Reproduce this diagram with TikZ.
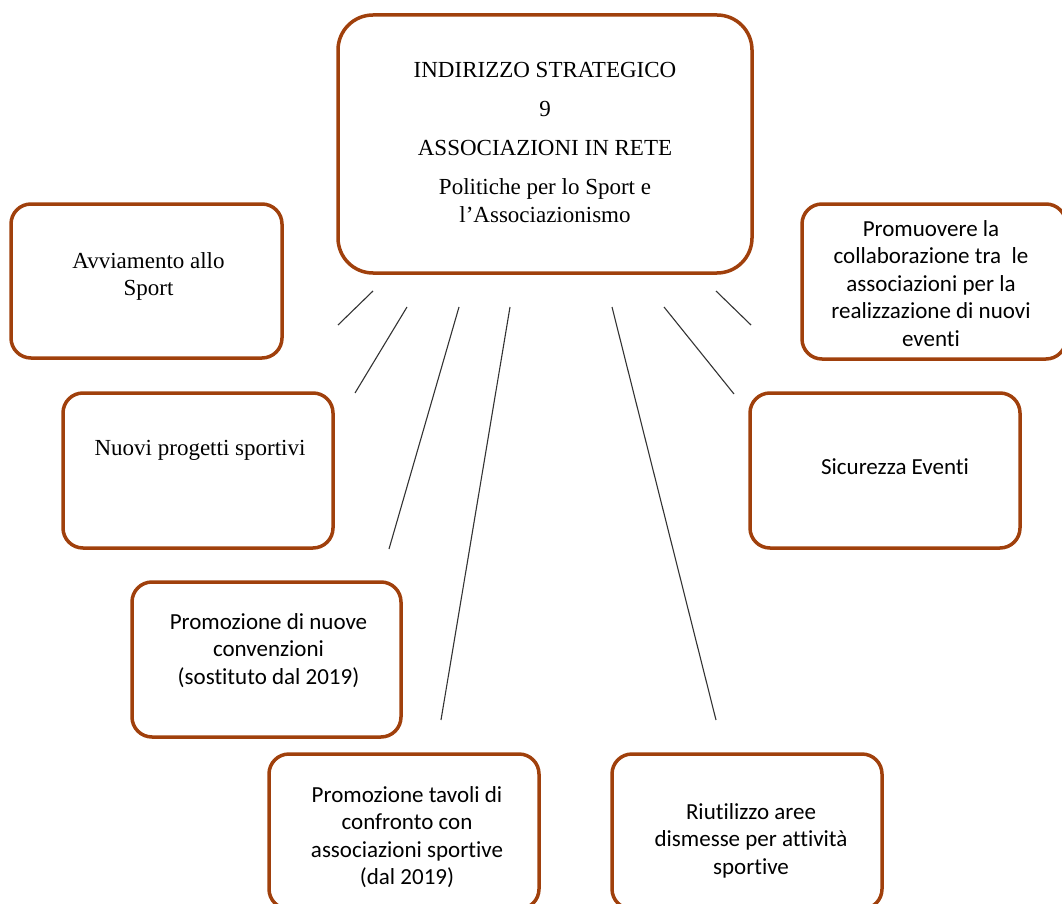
\documentclass[tikz,border=0pt]{standalone}
\usepackage{fontspec}
\setmainfont{Liberation Serif}
\newfontfamily\calibri[Ligatures=CommonOff]{Carlito}
\usetikzlibrary{positioning}
\definecolor{bordo}{RGB}{160,64,12}

\begin{document}
\begin{tikzpicture}[x=1pt, y=-1pt, font=\fontsize{23}{27.5}\selectfont,
			box/.style={draw=bordo, line width=3.5pt, rounded corners=20pt, minimum width=270pt, minimum height=155pt},
			testo/.style={align=center, inner sep=0pt, anchor=north},
			cal/.style={testo, font=\fontsize{23}{27.5}\selectfont\calibri},
			raggio/.style={draw=black!80, line width=1.1pt}]
			\clip (0,0) rectangle (1062,904);
			\node[box, minimum width=414pt, minimum height=258pt, rounded corners=35pt] (indirizzo) at (545,144) {};
			\node[testo, below=49pt of indirizzo.north] (indirizzot) {INDIRIZZO STRATEGICO\\[11.5pt]9\\[11.5pt]ASSOCIAZIONI IN RETE\\[11.5pt]Politiche per lo Sport e\\l'Associazionismo};
			\node[box, minimum width=271pt, minimum height=154pt] (avviamento) at (146.5,281) {};
			\node[testo, below=50pt of avviamento.north, xshift=2pt] (avviamentot) {Avviamento allo\\Sport};
			\node[box] (progetti) at (198,470.5) {};
			\node[testo, below=49pt of progetti.north, xshift=2pt] (progettit) {Nuovi progetti sportivi};
			\node[box, minimum width=269pt] (convenzioni) at (266.5,659.5) {};
			\node[cal, below=33pt of convenzioni.north, xshift=2pt] (convenzionit) {Promozione di nuove\\convenzioni\\(sostituto dal 2019)};
			\node[box] (tavoli) at (404,831.5) {};
			\node[cal, below=34pt of tavoli.north, xshift=3pt] (tavolit) {Promozione tavoli di\\confronto con\\associazioni sportive\\(dal 2019)};
			\node[box] (aree) at (747,831.5) {};
			\node[cal, below=51pt of aree.north, xshift=4pt] (areet) {Riutilizzo aree\\dismesse per attività\\sportive};
			\node[box] (sicurezza) at (885,470.5) {};
			\node[cal, below=67pt of sicurezza.north, xshift=10pt] (sicurezzat) {Sicurezza Eventi};
			\node[box, minimum width=264pt] (eventi) at (934,281.5) {};
			\node[cal, below=18pt of eventi.north, xshift=-3pt] (eventit) {Promuovere la\\collaborazione tra~~le\\associazioni per la\\realizzazione di nuovi\\eventi};
			\foreach \n/\xa/\ya/\xb/\yb in {1/373/291/338/325, 2/407/307/355/393, 3/459/307/389/549, 4/510/307/441/720,
				5/612/307/716/720, 6/664/307/734/394, 7/716/291/751/325} {
				\coordinate (da\n) at (\xa,\ya);
				\coordinate (a\n) at (\xb,\yb);
				\draw[raggio] (da\n) -- (a\n);
			}
		\end{tikzpicture}
\end{document}
